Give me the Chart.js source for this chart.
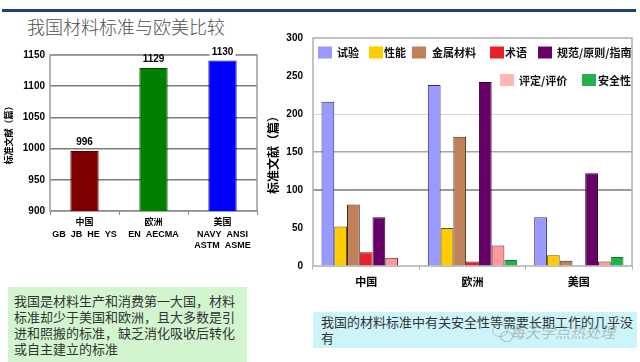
<!DOCTYPE html>
<html><head><meta charset="utf-8">
<script src="https://cdn.jsdelivr.net/npm/chart.js@4.4.0/dist/chart.umd.min.js"></script>
<style>
html,body{margin:0;padding:0;background:#fff;}
#page{position:relative;width:640px;height:362px;overflow:hidden;background:#fff;font-family:'Noto Sans CJK SC',sans-serif;}
#topline{position:absolute;left:2px;top:9px;width:634px;height:3px;background:#17467f;}
#title{position:absolute;left:27px;top:16px;font-size:18px;line-height:20px;color:#505050;font-weight:300;white-space:nowrap;}
#lc{position:absolute;left:0;top:40px;}
#rc{position:absolute;left:262px;top:22px;}
#note1{position:absolute;left:8px;top:287px;width:239px;height:75px;background:#d2f5cf;box-sizing:border-box;padding:6px 0 0 6px;font-size:13px;line-height:16px;color:#333;white-space:nowrap;}
#note2{position:absolute;left:313px;top:312px;width:324px;height:36px;background:#cdf4f8;box-sizing:border-box;padding:2px 0 0 8px;font-size:13px;line-height:16px;color:#333;white-space:nowrap;}
#wm{position:absolute;left:510px;top:323px;font-size:15px;line-height:18px;color:rgba(140,140,140,0.55);white-space:nowrap;font-style:italic;}
#wmicon{position:absolute;left:492px;top:324px;width:14px;height:11px;border:1.5px solid rgba(150,150,150,0.55);border-radius:50%;}
#wmicon2{position:absolute;left:500px;top:331px;width:11px;height:9px;border:1.5px solid rgba(150,150,150,0.55);border-radius:50%;}
</style></head>
<body>
<div id="page">
  <div id="topline"></div>
  <div id="title">我国材料标准与欧美比较</div>
  <canvas id="lc" width="265" height="220"></canvas>
  <canvas id="rc" width="378" height="272"></canvas>
  <div id="note1">我国是材料生产和消费第一大国，材料<br>标准却少于美国和欧洲，且大多数是引<br>进和照搬的标准，缺乏消化吸收后转化<br>或自主建立的标准</div>
  <div id="note2">我国的材料标准中有关安全性等需要长期工作的几乎没<br>有</div>
  <div id="wmicon"></div><div id="wmicon2"></div>
  <div id="wm">每天学点热处理</div>
</div>
<script>
// ---------- Data: left chart ----------
const leftCategories = [['中国','GB  JB  HE  YS'], ['欧洲','EN  AECMA'], ['美国','NAVY  ANSI','ASTM  ASME']];
const leftValues = [996, 1129, 1141];
const leftValueLabels = ['996', '1129', '1130'];
const leftTicks = [900, 950, 1000, 1050, 1100, 1150];
const leftAxisTitle = '标准文献（篇）';

// ---------- Data: right chart ----------
const rightCategories = ['中国', '欧洲', '美国'];
const seriesNames = ['试验', '性能', '金属材料', '术语', '规范/原则/指南', '评定/评价', '安全性'];
const trialValues = [216, 238, 64];
const performanceValues = [52, 50, 14];
const metalValues = [81, 170, 7];
const termValues = [18, 6, 0];
const normValues = [64, 242, 122];
const evaluationValues = [11, 27, 6];
const safetyValues = [1, 8, 12];
const rightTicks = [0, 50, 100, 150, 200, 250, 300];
const rightAxisTitle = '标准文献（篇）';

// ---------- Styles ----------
const NUMFONT = "'Liberation Sans','Noto Sans CJK SC',sans-serif";
const CJKFONT = "'Noto Sans CJK SC','Liberation Sans',sans-serif";
const leftColors = ['#800000', '#008000', '#0000ff'];
const leftBorders = ['#4a0000', '#004a00', '#00008a'];
const seriesColors = ['#9999ff', '#ffcc00', '#c0805a', '#e8202a', '#660066', '#ff9999', '#22b14c'];
const seriesBorders = ['#2e2e70', '#6b5500', '#3c2416', '#8a1010', '#2a002a', '#5a2020', '#137a35'];
const legendBoxColors = ['#9999ff', '#ffcc00', '#c0805a', '#e8202a', '#660066', '#ffb6b6', '#22b14c'];
const legendLayout = [
  {row: 0, box: 56, text: 75}, {row: 0, box: 107, text: 122}, {row: 0, box: 150, text: 170},
  {row: 0, box: 228, text: 243}, {row: 0, box: 276, text: 295},
  {row: 1, box: 238, text: 257}, {row: 1, box: 320, text: 336}
];
const legendRowsY = [30.5, 58];

const framePlugin = {
  id: 'frame',
  beforeDatasetsDraw(c, args, o) {
    const a = c.chartArea, ctx = c.ctx;
    ctx.save();
    ctx.strokeStyle = o.color; ctx.lineWidth = o.width;
    ctx.strokeRect(a.left, a.top, a.right - a.left, a.bottom - a.top);
    ctx.restore();
  }
};

const valueLabelPlugin = {
  id: 'valueLabels',
  afterDatasetsDraw(c) {
    const meta = c.getDatasetMeta(0), ctx = c.ctx;
    ctx.save();
    ctx.font = 'bold 10px ' + NUMFONT;
    ctx.textAlign = 'center'; ctx.textBaseline = 'middle';
    meta.data.forEach((bar, i) => {
      const t = leftValueLabels[i];
      const w = ctx.measureText(t).width;
      const y = bar.y - 8.5;
      if (y < c.chartArea.top) {
        ctx.fillStyle = '#fff';
        ctx.fillRect(bar.x - w / 2 - 2, y - 4.5, w + 4, 9);
      }
      ctx.fillStyle = '#000';
      ctx.fillText(t, bar.x, y);
    });
    ctx.restore();
  }
};

const customLegend = {
  id: 'customLegend',
  afterDraw(c) {
    const ctx = c.ctx;
    ctx.save();
    ctx.font = 'bold 11px ' + CJKFONT;
    ctx.textBaseline = 'middle'; ctx.textAlign = 'left';
    c.data.datasets.forEach((ds, i) => {
      const L = legendLayout[i];
      const y = legendRowsY[L.row];
      ctx.fillStyle = legendBoxColors[i];
      ctx.fillRect(L.box, y - 6, 14, 12);
      ctx.fillStyle = '#111';
      ctx.fillText(ds.label, L.text, y + 0.5);
    });
    ctx.restore();
  }
};

Chart.defaults.animation = false;

new Chart(document.getElementById('lc'), {
  type: 'bar',
  data: {
    labels: leftCategories,
    datasets: [{
      data: leftValues,
      backgroundColor: leftColors,
      borderColor: leftBorders,
      borderWidth: 1,
      barPercentage: 0.41,
      categoryPercentage: 1
    }]
  },
  options: {
    responsive: false,
    layout: {padding: {top: 15, right: 8, left: 0, bottom: 0}},
    plugins: {legend: {display: false}, tooltip: {enabled: false}, frame: {color: '#9a9a9a', width: 1.5}},
    scales: {
      x: {
        afterFit: s => { s.height = 49; },
        grid: {offset: true, drawOnChartArea: false, tickLength: 4, color: '#888'},
        border: {display: false},
        ticks: {color: '#000', padding: 2, maxRotation: 0, minRotation: 0, autoSkip: false,
                font: {family: NUMFONT, size: 9, weight: 'bold', lineHeight: 1.28}}
      },
      y: {
        min: leftTicks[0], max: leftTicks[leftTicks.length - 1],
        afterFit: s => { s.width = 50; },
        grid: {color: '#7c7c7c', lineWidth: 1.5, drawTicks: false},
        border: {display: false},
        ticks: {stepSize: leftTicks[1] - leftTicks[0], color: '#000', padding: 5,
                callback: v => String(v),
                font: {family: NUMFONT, size: 10, weight: 'bold'}},
        title: {display: true, text: leftAxisTitle, color: '#000', padding: {top: 3, bottom: 2}, font: {family: CJKFONT, size: 9, weight: 'bold'}}
      }
    }
  },
  plugins: [framePlugin, valueLabelPlugin]
});

const rightSeries = [trialValues, performanceValues, metalValues, termValues, normValues, evaluationValues, safetyValues];
new Chart(document.getElementById('rc'), {
  type: 'bar',
  data: {
    labels: rightCategories,
    datasets: rightSeries.map((vals, i) => ({
      label: seriesNames[i],
      data: vals,
      backgroundColor: seriesColors[i],
      borderColor: seriesBorders[i],
      borderWidth: 1,
      barPercentage: 1,
      categoryPercentage: 0.84
    }))
  },
  options: {
    responsive: false,
    layout: {padding: {top: 13, right: 8, left: 0, bottom: 0}},
    plugins: {legend: {display: false}, tooltip: {enabled: false}, frame: {color: '#b0b0b0', width: 1.5}},
    scales: {
      x: {
        afterFit: s => { s.height = 28; },
        grid: {offset: true, drawOnChartArea: false, tickLength: 4, color: '#bbb'},
        border: {display: false},
        ticks: {color: '#000', padding: 5, maxRotation: 0, autoSkip: false, font: {family: CJKFONT, size: 11, weight: 'bold'}}
      },
      y: {
        min: rightTicks[0], max: rightTicks[rightTicks.length - 1],
        afterFit: s => { s.width = 51; },
        grid: {
          drawTicks: false,
          color: ctx => {
            const v = ctx.tick ? ctx.tick.value : null;
            if (v === 100) return '#9c9c9c';
            if (v === 150) return '#a8a8a8';
            if (v === 200) return '#d8d8d8';
            return 'rgba(0,0,0,0)';
          },
          lineWidth: ctx => {
            const v = ctx.tick ? ctx.tick.value : null;
            return v === 100 ? 2 : (v === 150 ? 1.5 : 1);
          }
        },
        border: {display: false},
        ticks: {stepSize: rightTicks[1] - rightTicks[0], color: '#000', padding: 10,
                callback: v => String(v),
                font: {family: NUMFONT, size: 10, weight: 'bold'}},
        title: {display: true, text: rightAxisTitle, color: '#000', padding: {top: 4, bottom: 2}, font: {family: CJKFONT, size: 12, weight: 'bold'}}
      }
    }
  },
  plugins: [framePlugin, customLegend]
});
</script>
</body></html>
